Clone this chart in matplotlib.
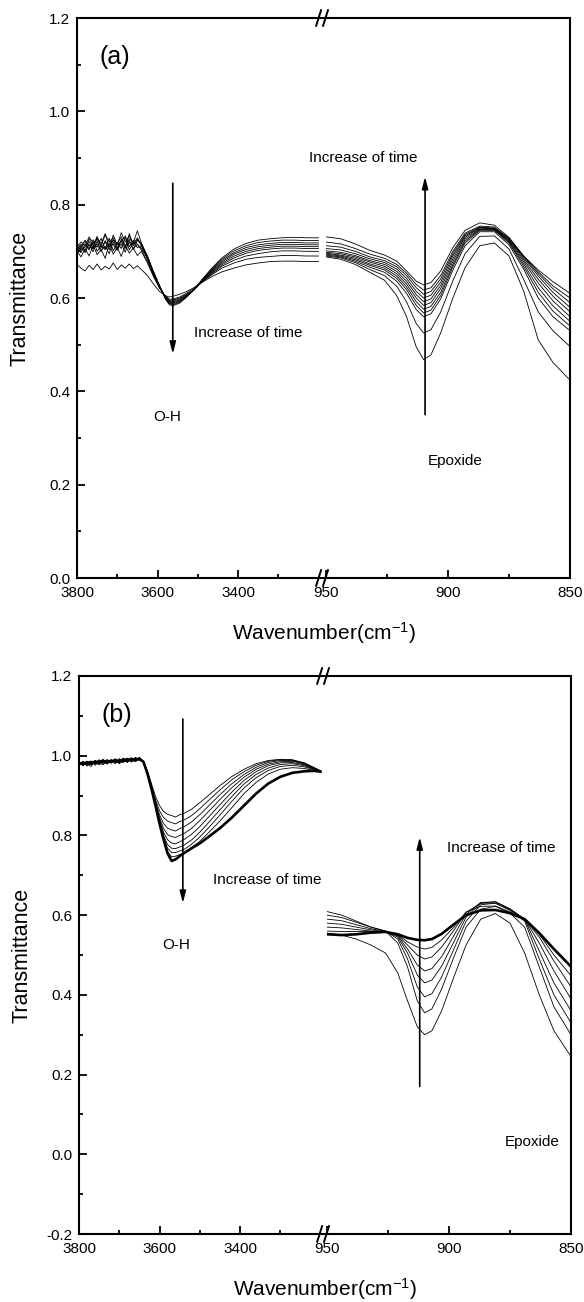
import matplotlib
matplotlib.use('Agg')
import matplotlib.pyplot as plt
from matplotlib.ticker import FixedLocator, MultipleLocator, FormatStrFormatter

plt.rcParams['font.family'] = ['Liberation Sans', 'DejaVu Sans']
plt.rcParams['axes.unicode_minus'] = False
plt.rcParams['mathtext.fontset'] = 'custom'
plt.rcParams['mathtext.rm'] = 'Liberation Sans'
plt.rcParams['mathtext.it'] = 'Liberation Sans:italic'

# ---------------- data: panel (a) ----------------
WN_A_OH = [3800, 3790, 3780, 3770, 3760, 3750, 3740, 3730, 3720, 3710, 3700, 3690, 3680,
           3670, 3660, 3650, 3640, 3625, 3610, 3595, 3580, 3570, 3560, 3545, 3530, 3510,
           3490, 3465, 3440, 3410, 3380, 3350, 3320, 3290, 3260, 3230, 3200]
A_OH_0 = [.672, .664, .658, .670, .661, .673, .660, .668, .662, .675, .661, .671, .664, .673, .663, .669, .661,
          .648, .630, .614, .605, .602, .604, .608, .613, .622, .633, .646, .656, .664, .671, .675, .678, .679, .679, .678, .678]
A_OH_1 = [.700, .688, .706, .690, .713, .693, .704, .685, .716, .694, .709, .689, .713, .696, .707, .691, .700,
          .675, .646, .621, .604, .597, .598, .602, .609, .620, .634, .650, .664, .675, .683, .687, .689, .691, .691, .690, .690]
A_OH_2 = [.694, .708, .697, .715, .699, .722, .702, .711, .695, .720, .704, .716, .698, .724, .706, .715, .703,
          .678, .648, .622, .603, .595, .596, .600, .607, .618, .634, .652, .668, .681, .690, .695, .699, .701, .701, .700, .700]
A_OH_3 = [.705, .697, .716, .703, .725, .700, .712, .704, .728, .701, .718, .706, .730, .703, .720, .708, .712,
          .683, .650, .623, .602, .593, .594, .598, .605, .617, .634, .654, .671, .686, .696, .702, .705, .707, .707, .706, .706]
A_OH_4 = [.712, .703, .709, .721, .706, .716, .699, .723, .710, .715, .702, .726, .711, .719, .704, .724, .714,
          .686, .652, .624, .601, .592, .592, .596, .604, .617, .635, .656, .674, .690, .700, .706, .709, .711, .711, .710, .710]
A_OH_5 = [.702, .715, .700, .727, .712, .732, .708, .720, .703, .735, .714, .722, .706, .738, .712, .726, .716,
          .688, .654, .625, .600, .590, .590, .594, .603, .617, .636, .658, .677, .694, .704, .710, .713, .715, .715, .714, .714]
A_OH_6 = [.716, .708, .724, .713, .705, .729, .716, .738, .709, .724, .717, .731, .712, .727, .719, .744, .718,
          .690, .655, .626, .599, .588, .588, .593, .602, .617, .637, .660, .680, .697, .708, .714, .717, .719, .719, .718, .718]
A_OH_7 = [.709, .720, .711, .731, .718, .726, .712, .735, .721, .729, .713, .740, .720, .733, .716, .729, .712,
          .690, .656, .626, .598, .587, .586, .591, .601, .617, .638, .662, .683, .701, .712, .719, .722, .724, .724, .723, .723]
A_OH_8 = [.698, .712, .722, .705, .719, .709, .728, .704, .717, .725, .708, .721, .733, .710, .724, .715, .706,
          .686, .657, .627, .597, .585, .584, .589, .600, .617, .639, .664, .686, .705, .717, .724, .727, .729, .730, .729, .729]

WN_A_EP = [950, 944, 938, 932, 926, 921, 917, 913, 910, 907, 903, 898, 893, 887, 881, 875, 869, 863, 857, 850]
A_EP_0 = [.688, .683, .672, .655, .638, .605, .560, .495, .468, .478, .525, .600, .665, .712, .718, .690, .615, .510, .462, .424]
A_EP_1 = [.690, .686, .676, .661, .648, .625, .592, .545, .525, .532, .570, .637, .695, .732, .733, .705, .640, .570, .530, .496]
A_EP_2 = [.692, .688, .679, .666, .655, .636, .610, .575, .560, .566, .598, .660, .712, .742, .742, .714, .662, .600, .560, .530]
A_EP_3 = [.694, .690, .682, .670, .660, .642, .618, .584, .568, .574, .605, .667, .718, .745, .745, .718, .668, .612, .572, .540]
A_EP_4 = [.696, .692, .685, .673, .664, .647, .624, .592, .576, .582, .612, .672, .722, .747, .746, .720, .673, .622, .583, .550]
A_EP_5 = [.698, .695, .688, .677, .668, .652, .630, .600, .584, .590, .620, .678, .726, .748, .747, .722, .678, .632, .594, .560]
A_EP_6 = [.701, .698, .691, .680, .672, .657, .636, .607, .592, .598, .627, .684, .730, .750, .748, .724, .682, .640, .604, .570]
A_EP_7 = [.706, .703, .695, .684, .676, .662, .642, .614, .600, .606, .634, .690, .733, .751, .749, .726, .686, .647, .612, .580]
A_EP_8 = [.712, .709, .700, .688, .680, .667, .648, .622, .608, .614, .641, .695, .736, .752, .750, .727, .688, .652, .620, .590]
A_EP_9 = [.720, .716, .706, .694, .685, .672, .653, .629, .617, .622, .648, .700, .739, .754, .752, .728, .690, .656, .626, .600]
A_EP_10 = [.731, .727, .716, .702, .692, .679, .658, .636, .628, .633, .658, .708, .745, .761, .756, .730, .690, .660, .635, .610]

# ---------------- data: panel (b) ----------------
WN_B_OH = [3800, 3790, 3780, 3770, 3760, 3750, 3740, 3730, 3720, 3710, 3700, 3690, 3680, 3670, 3660, 3650,
           3640, 3630, 3620, 3610, 3600, 3590, 3580, 3570, 3560, 3550, 3540, 3520, 3500, 3480, 3450, 3420,
           3390, 3360, 3330, 3300, 3270, 3240, 3215, 3200]
B_OH_0 = [.978, .983, .976, .985, .980, .988, .982, .990, .984, .992, .986, .991, .983, .994, .988, .993,
          .985, .962, .930, .898, .875, .860, .853, .850, .846, .852, .855, .866, .882, .899, .925, .948, .966, .980, .988, .991, .990, .982, .970, .962]
B_OH_1 = [.982, .975, .986, .979, .984, .977, .989, .983, .987, .980, .993, .985, .990, .987, .996, .990,
          .985, .960, .925, .890, .862, .845, .836, .832, .829, .835, .838, .850, .867, .886, .914, .940, .960, .976, .986, .990, .989, .981, .969, .962]
B_OH_2 = [.975, .984, .980, .973, .987, .981, .978, .990, .982, .988, .984, .994, .986, .990, .985, .991,
          .985, .958, .922, .884, .852, .830, .818, .814, .811, .817, .821, .834, .852, .872, .902, .930, .953, .971, .983, .988, .988, .980, .968, .962]
B_OH_3 = [.984, .978, .983, .987, .976, .985, .991, .980, .989, .985, .982, .990, .993, .984, .991, .995,
          .985, .957, .920, .880, .845, .818, .802, .797, .795, .800, .804, .818, .837, .858, .890, .920, .946, .966, .979, .985, .986, .979, .968, .962]
B_OH_4 = [.980, .986, .974, .982, .988, .979, .984, .987, .981, .992, .986, .983, .991, .988, .994, .989,
          .985, .956, .919, .878, .840, .808, .789, .781, .779, .784, .789, .803, .822, .844, .877, .909, .938, .960, .975, .982, .983, .977, .967, .961]
B_OH_5 = [.977, .981, .985, .978, .983, .990, .978, .986, .990, .983, .989, .992, .984, .990, .987, .996,
          .985, .956, .918, .877, .836, .800, .777, .768, .767, .771, .775, .789, .808, .830, .864, .898, .929, .953, .969, .978, .980, .975, .966, .961]
B_OH_6 = [.983, .976, .980, .986, .979, .984, .988, .982, .985, .991, .980, .988, .994, .986, .993, .990,
          .985, .955, .918, .876, .834, .795, .768, .757, .757, .761, .764, .778, .796, .817, .851, .886, .919, .945, .963, .973, .976, .972, .965, .961]
B_OH_7 = [.979, .985, .978, .983, .987, .981, .986, .979, .990, .984, .991, .985, .989, .995, .988, .992,
          .985, .955, .917, .876, .832, .792, .760, .746, .748, .752, .756, .770, .785, .805, .836, .870, .905, .933, .954, .966, .970, .968, .963, .960]
B_OH_8 = [.981, .979, .984, .980, .985, .983, .987, .984, .986, .988, .985, .990, .988, .991, .990, .992,
          .985, .955, .917, .875, .830, .790, .755, .736, .740, .748, .755, .768, .780, .795, .818, .845, .875, .905, .930, .947, .957, .961, .962, .960]

WN_B_EP = [950, 944, 938, 932, 926, 921, 917, 913, 910, 907, 903, 898, 893, 887, 881, 875, 869, 863, 857, 850]
B_EP_0 = [.555, .550, .540, .525, .505, .455, .385, .320, .300, .310, .360, .445, .525, .590, .604, .580, .505, .400, .310, .245]
B_EP_1 = [.609, .600, .585, .570, .560, .530, .470, .385, .355, .365, .415, .495, .570, .615, .622, .605, .570, .470, .370, .300]
B_EP_2 = [.600, .594, .582, .570, .560, .540, .490, .420, .395, .403, .445, .515, .585, .626, .630, .612, .585, .490, .400, .330]
B_EP_3 = [.590, .586, .576, .566, .559, .545, .505, .450, .430, .437, .472, .533, .595, .630, .634, .615, .589, .510, .430, .360]
B_EP_4 = [.580, .577, .570, .563, .558, .548, .515, .475, .460, .466, .496, .549, .602, .632, .633, .616, .590, .530, .460, .390]
B_EP_5 = [.570, .568, .564, .560, .558, .550, .525, .500, .490, .495, .520, .562, .607, .630, .630, .614, .590, .545, .485, .420]
B_EP_6 = [.560, .559, .559, .559, .558, .551, .533, .520, .515, .519, .538, .570, .608, .622, .623, .608, .588, .552, .500, .448]
B_EP_7 = [.552, .550, .552, .556, .558, .552, .543, .538, .537, .540, .553, .577, .600, .612, .613, .605, .590, .555, .515, .471]

LEFT_MAJOR = [3800, 3600, 3400]
LEFT_MINOR = [3700, 3500, 3300]
RIGHT_MAJOR = [950, 900, 850]
RIGHT_MINOR = [925, 875]

# ---------------- layout ----------------
W, H = 584, 1302
fig = plt.figure(figsize=(W / 100, H / 100), dpi=100)


def pos(l, r, t, b):
    return [l / W, 1 - b / H, (r - l) / W, (b - t) / H]


def style(ax, xmaj, xmin):
    ax.xaxis.set_major_locator(FixedLocator(xmaj))
    ax.xaxis.set_minor_locator(FixedLocator(xmin))
    ax.tick_params(axis='both', which='both', direction='in', top=False, right=False,
                   labelsize=11, width=1.3)
    ax.tick_params(axis='x', which='both', pad=5.5)
    ax.tick_params(axis='y', which='both', pad=5)
    ax.tick_params(which='major', length=6)
    ax.tick_params(which='minor', length=3)


def panel(l, r, t, b, brk, ylim, label, oh_curves, ep_curves, wn_oh, wn_ep, thick_last):
    px_per_cm = 80.5 / 200.0
    ax = fig.add_axes(pos(l, r, t, b))
    ax.set_xlim(3800, 3800 - (r - l) / px_per_cm)
    ax.set_ylim(*ylim)
    style(ax, LEFT_MAJOR, LEFT_MINOR)
    ax.yaxis.set_major_locator(MultipleLocator(0.2))
    ax.yaxis.set_minor_locator(MultipleLocator(0.1))
    ax.yaxis.set_major_formatter(FormatStrFormatter('%.1f'))
    for s in ax.spines.values():
        s.set_linewidth(1.5)
    for i, c in enumerate(oh_curves):
        lw = 1.9 if (thick_last and i == len(oh_curves) - 1) else 0.6
        ax.plot(wn_oh, c, color='black', lw=lw)

    ax2 = fig.add_axes(pos(brk, r, t, b))
    ax2.set_xlim(950, 850)
    ax2.set_ylim(*ylim)
    ax2.patch.set_visible(False)
    for s in ax2.spines.values():
        s.set_visible(False)
    ax2.yaxis.set_visible(False)
    style(ax2, RIGHT_MAJOR, RIGHT_MINOR)
    for i, c in enumerate(ep_curves):
        lw = 1.9 if (thick_last and i == len(ep_curves) - 1) else 0.6
        ax2.plot(wn_ep, c, color='black', lw=lw)

    # axis break marks
    xb = (brk - l) / (r - l) - 0.008
    for yb in (0.0, 1.0):
        for off in (-0.007, 0.007):
            ax.plot([xb + off - 0.005, xb + off + 0.005], [yb - 0.014, yb + 0.014],
                    transform=ax.transAxes, color='black', lw=1.4, clip_on=False)

    ax.set_ylabel('Transmittance', fontsize=15.5)
    ax.yaxis.set_label_coords(-0.095, 0.5)
    ax.set_xlabel('Wavenumber(cm$^{-1}$)', fontsize=15)
    ax.xaxis.set_label_coords(0.5, -(42 / (b - t)))
    ax.text(0.045, 0.93, label, transform=ax.transAxes, fontsize=18, va='center', ha='left')
    return ax, ax2


arrow_kw = dict(arrowstyle='-|>,head_length=0.7,head_width=0.18', color='black', lw=1.2,
                shrinkA=0, shrinkB=0, mutation_scale=10)

# panel (a)
axa, axa2 = panel(77, 570, 18, 578, 326, (0.0, 1.2), '(a)',
                  [A_OH_0, A_OH_1, A_OH_2, A_OH_3, A_OH_4, A_OH_5, A_OH_6, A_OH_7, A_OH_8],
                  [A_EP_0, A_EP_1, A_EP_2, A_EP_3, A_EP_4, A_EP_5, A_EP_6, A_EP_7, A_EP_8, A_EP_9, A_EP_10],
                  WN_A_OH, WN_A_EP, False)
axa.annotate('', xy=(3562, 0.48), xytext=(3562, 0.846), arrowprops=arrow_kw)
axa.text(3510, 0.525, 'Increase of time', fontsize=11, va='center', ha='left')
axa.text(3575, 0.345, 'O-H', fontsize=11, va='center', ha='center')
axa2.annotate('', xy=(909.4, 0.86), xytext=(909.4, 0.35), arrowprops=arrow_kw)
axa.text(0.470, 0.90 / 1.2, 'Increase of time', transform=axa.transAxes, fontsize=11, va='center', ha='left')
axa2.text(897, 0.25, 'Epoxide', fontsize=11, va='center', ha='center')

# panel (b)
axb, axb2 = panel(79, 571, 676, 1234, 327, (-0.2, 1.2), '(b)',
                  [B_OH_0, B_OH_1, B_OH_2, B_OH_3, B_OH_4, B_OH_5, B_OH_6, B_OH_7, B_OH_8],
                  [B_EP_0, B_EP_1, B_EP_2, B_EP_3, B_EP_4, B_EP_5, B_EP_6, B_EP_7],
                  WN_B_OH, WN_B_EP, True)
axb.annotate('', xy=(3542, 0.63), xytext=(3542, 1.092), arrowprops=arrow_kw)
axb.text(3467, 0.688, 'Increase of time', fontsize=11, va='center', ha='left')
axb.text(3559, 0.525, 'O-H', fontsize=11, va='center', ha='center')
axb2.annotate('', xy=(912, 0.796), xytext=(912, 0.17), arrowprops=arrow_kw)
axb2.text(901, 0.768, 'Increase of time', fontsize=11, va='center', ha='left')
axb2.text(866, 0.03, 'Epoxide', fontsize=11, va='center', ha='center')

fig.savefig('out.png', dpi=100)
